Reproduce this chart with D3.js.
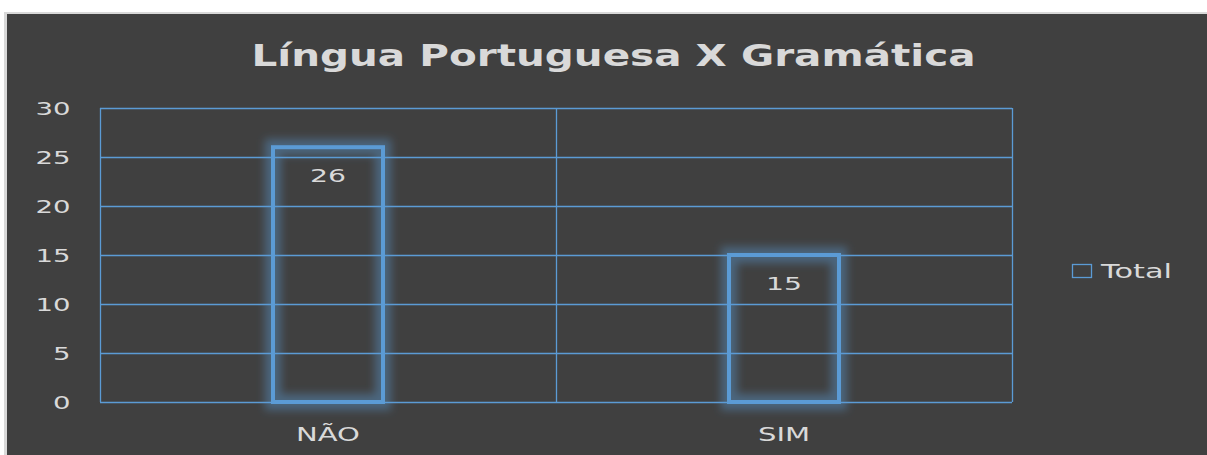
<!DOCTYPE html>
<html><head><meta charset="utf-8">
<script src="https://cdn.jsdelivr.net/npm/d3@7"></script>
<style>html,body{margin:0;padding:0;background:#fff;}svg{display:block;}</style>
</head><body>
<svg id="c" width="1207" height="455"></svg>
<script>
const categories = ["NÃO", "SIM"];
const values = [26, 15];
const yTicks = [0, 5, 10, 15, 20, 25, 30];
const seriesName = "Total";
const title = "Língua Portuguesa X Gramática";

const svg = d3.select("#c");
const W = 1207, H = 455;
const blue = "#5b9bd5";
const textCol = "#d9d9d9";
const font = "DejaVu Sans, Verdana, sans-serif";
const SX = 1.53; // horizontal stretch of the reference's text

// frame
svg.append("rect").attr("x", 4).attr("y", 12).attr("width", W - 4).attr("height", H - 12).attr("fill", "#d9d9d9");
svg.append("rect").attr("x", 7).attr("y", 14).attr("width", W - 7).attr("height", H - 14).attr("fill", "#404040");

const defs = svg.append("defs");
const f = defs.append("filter").attr("id", "glow").attr("x", "-40%").attr("y", "-40%").attr("width", "180%").attr("height", "180%");
f.append("feGaussianBlur").attr("in", "SourceGraphic").attr("stdDeviation", 4);

const m = {left: 100, right: 1012, top: 108, bottom: 402};
const x = d3.scaleBand().domain(categories).range([m.left, m.right]).paddingInner(0).paddingOuter(0);
const y = d3.scaleLinear().domain([0, 30]).range([m.bottom, m.top]);

function stretchedText(parent, tx, ty, str, size, anchor, sx, weight) {
  return parent.append("text")
    .attr("transform", `translate(${tx},${ty}) scale(${sx},1)`)
    .attr("text-anchor", anchor)
    .attr("font-family", font).attr("font-size", size)
    .attr("font-weight", weight || "normal")
    .attr("fill", textCol).text(str);
}

// title
stretchedText(svg, 613.5, 66, title, 30, "middle", 1.35, "bold");

// gridlines
const g = svg.append("g");
g.selectAll("line.h").data(yTicks).join("line").attr("class", "h")
  .attr("x1", m.left).attr("x2", m.right).attr("y1", d => Math.round(y(d)) + 0.5).attr("y2", d => Math.round(y(d)) + 0.5)
  .attr("stroke", blue).attr("stroke-width", 1.3);
const vlines = [m.left, ...categories.map(c => x(c) + x.bandwidth())];
g.selectAll("line.v").data(vlines).join("line").attr("class", "v")
  .attr("x1", d => Math.round(d) + 0.5).attr("x2", d => Math.round(d) + 0.5).attr("y1", m.top).attr("y2", m.bottom)
  .attr("stroke", blue).attr("stroke-width", 1.3);

// y axis labels
const ya = svg.append("g");
yTicks.forEach(t => stretchedText(ya, 70.5, y(t) + 7, t, 18, "end", SX));

// x axis labels
const xa = svg.append("g");
categories.forEach(c => stretchedText(xa, x(c) + x.bandwidth() / 2, m.bottom + 39, c, 19, "middle", SX));

// bars
const bw = 110;
const bx = (i) => x(categories[i]) + x.bandwidth() / 2 - bw / 2;
const glow = svg.append("g").attr("filter", "url(#glow)");
glow.selectAll("rect").data(values).join("rect")
  .attr("x", (d, i) => bx(i)).attr("y", d => y(d))
  .attr("width", bw).attr("height", d => y(0) - y(d))
  .attr("fill", "none").attr("stroke", blue).attr("stroke-opacity", 0.42).attr("stroke-width", 16);
const bars = svg.append("g");
bars.selectAll("rect").data(values).join("rect")
  .attr("x", (d, i) => bx(i)).attr("y", d => y(d))
  .attr("width", bw).attr("height", d => y(0) - y(d))
  .attr("fill", "none").attr("stroke", blue).attr("stroke-width", 4);

// labels
const lab = svg.append("g");
values.forEach((d, i) => stretchedText(lab, x(categories[i]) + x.bandwidth() / 2, y(d) + 35, d, 18.5, "middle", SX));

// legend
const lg = svg.append("g").attr("transform", "translate(1072,264)");
lg.append("rect").attr("x", 0.5).attr("y", 0.5).attr("width", 19).attr("height", 13).attr("fill", "none").attr("stroke", blue).attr("stroke-width", 1.3);
stretchedText(lg, 29, 14, seriesName, 19.5, "start", 1.56);
</script>
</body></html>
